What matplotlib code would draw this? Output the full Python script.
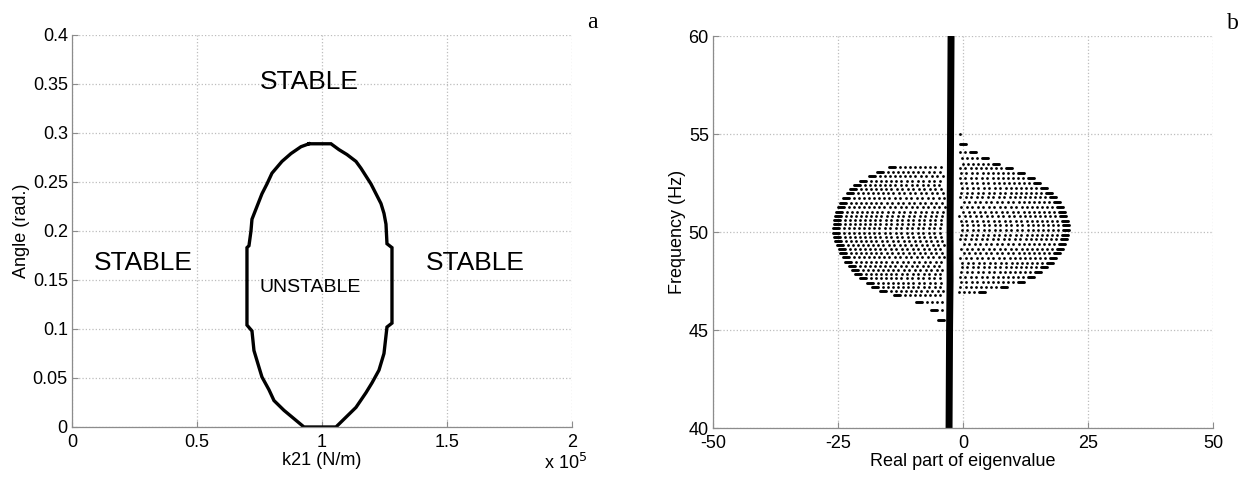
import numpy as np
import matplotlib.pyplot as plt

plt.rcParams['font.family'] = ['Liberation Sans', 'DejaVu Sans']

# ---- panel a: stability boundary in the (k21, angle) plane ----
# k21 in units of 1e5 N/m, angle in rad
bound_k = [0.948, 1.036, 1.068, 1.100, 1.136, 1.156, 1.176, 1.196, 1.216, 1.236,
           1.248, 1.256, 1.260, 1.280, 1.280, 1.260, 1.248, 1.228, 1.200, 1.176,
           1.136, 1.096, 1.056, 0.928, 0.848, 0.808, 0.788, 0.760, 0.748, 0.728,
           0.720, 0.700, 0.700, 0.708, 0.716, 0.720, 0.740, 0.760, 0.780, 0.800,
           0.840, 0.876, 0.916, 0.948]
bound_ang = [0.289, 0.289, 0.283, 0.278, 0.271, 0.264, 0.256, 0.248, 0.238, 0.228,
             0.218, 0.207, 0.187, 0.183, 0.106, 0.102, 0.075, 0.058, 0.045, 0.035,
             0.020, 0.010, 0.000, 0.000, 0.017, 0.027, 0.038, 0.051, 0.061, 0.078,
             0.098, 0.104, 0.183, 0.185, 0.200, 0.212, 0.225, 0.238, 0.248, 0.259,
             0.271, 0.279, 0.286, 0.289]

a_xticks = [0, 0.5, 1, 1.5, 2]
a_xlabels = ['0', '0.5', '1', '1.5', '2']
a_yticks = [0, 0.05, 0.1, 0.15, 0.2, 0.25, 0.3, 0.35, 0.4]
a_ylabels = ['0', '0.05', '0.1', '0.15', '0.2', '0.25', '0.3', '0.35', '0.4']

# ---- panel b: eigenvalues of the coupled modes ----
damp_re = -2.5  # real part shared by the uncoupled modes

# dense column of stable eigenvalues
band_re = [-2.4, -2.5, -2.6, -2.6, -2.7, -2.8]
band_f = [60.0, 55.0, 50.0, 47.5, 45.0, 40.0]

# rows of the lower-frequency branch (real part < damp_re): frequency and spread
left_row_f = [45.00, 45.50, 46.00, 46.45,
              46.79, 46.99, 47.21, 47.41, 47.64, 47.86, 48.06, 48.27, 48.48, 48.71,
              48.91, 49.12, 49.34, 49.56, 49.76, 49.97, 50.19, 50.41, 50.61, 50.82,
              51.04, 51.26, 51.49, 51.75, 51.97, 52.18, 52.40, 52.62, 52.86, 53.08,
              53.33]
left_row_ext = [1.2, 2.5, 4.0, 7.0,
                11.4, 14.1, 15.8, 16.8, 18.1, 19.1, 19.8, 20.4, 21.1, 21.6,
                22.1, 22.4, 22.8, 23.1, 23.4, 23.6, 23.6, 23.4, 23.4, 23.2,
                23.0, 22.6, 22.1, 21.6, 20.8, 20.1, 19.3, 18.1, 16.4, 14.8,
                12.4]

# rows of the higher-frequency branch (real part > damp_re)
right_row_f = [46.95, 47.21, 47.46, 47.72, 47.96, 48.20, 48.43, 48.67, 48.91, 49.15,
               49.39, 49.63, 49.86, 50.10, 50.34, 50.58, 50.82, 51.04, 51.29, 51.53,
               51.77, 52.00, 52.23, 52.48, 52.74, 53.00, 53.25, 53.47, 53.76,
               54.10, 54.50, 55.00, 55.50]
right_row_ext = [6.9, 11.2, 14.6, 16.6, 18.0, 19.2, 20.4, 21.1, 21.8, 22.4,
                 22.9, 23.2, 23.4, 23.6, 23.6, 23.4, 23.1, 22.8, 22.4, 21.8,
                 21.1, 20.2, 19.2, 17.9, 16.6, 14.6, 12.2, 9.6, 7.5,
                 5.0, 3.0, 1.8, 1.0]

# positions of the sweep points, measured inward from the outer end of a row
sweep_offsets = [0.0, 0.2, 0.4, 0.6, 0.8, 1.0, 1.2,
                 2.2, 3.2, 4.2, 5.2, 6.2, 7.2, 8.2, 9.3, 10.4, 11.5,
                 12.6, 13.7, 14.8, 15.9, 17.0, 18.1, 19.2, 20.3, 21.4]

b_xticks = [-50, -25, 0, 25, 50]
b_xlabels = ['-50', '-25', '0', '25', '50']
b_yticks = [40, 45, 50, 55, 60]

axis_grey = '#8c8c8c'
grid_grey = '#bdbdbd'


def style_axes(ax):
    for side in ('top', 'right'):
        ax.spines[side].set_visible(False)
    for side in ('left', 'bottom'):
        ax.spines[side].set_color(axis_grey)
        ax.spines[side].set_linewidth(0.9)
    ax.grid(True, linestyle=':', color=grid_grey, linewidth=0.9)
    ax.tick_params(direction='in', length=4, color=axis_grey, labelsize=13,
                   labelcolor='black', pad=3)
    ax.tick_params(axis='x', pad=5)


fig = plt.figure(figsize=(12.47, 4.86), dpi=100)
ax_a = fig.add_axes([0.0577, 0.1214, 0.401, 0.8066])
ax_b = fig.add_axes([0.5718, 0.1193, 0.401, 0.8066])

# panel a
style_axes(ax_a)
ax_a.plot(bound_k, bound_ang, color='black', linewidth=2.4,
          solid_joinstyle='miter')
ax_a.set_xlim(0, 2)
ax_a.set_ylim(0, 0.4)
ax_a.set_xticks(a_xticks)
ax_a.set_xticklabels(a_xlabels)
ax_a.set_yticks(a_yticks)
ax_a.set_yticklabels(a_ylabels)
ax_a.set_xlabel('k21 (N/m)', fontsize=13, labelpad=1)
ax_a.set_ylabel('Angle (rad.)', fontsize=13, labelpad=2)
ax_a.text(0.948, 0.352, 'STABLE', fontsize=19, ha='center', va='center')
ax_a.text(0.284, 0.167, 'STABLE', fontsize=19, ha='center', va='center')
ax_a.text(1.612, 0.167, 'STABLE', fontsize=19, ha='center', va='center')
ax_a.text(0.952, 0.142, 'UNSTABLE', fontsize=14, ha='center', va='center')
ax_a.text(0.945, -0.065, r'x 10$^{5}$', fontsize=13, transform=ax_a.transAxes,
          ha='left', va='top')
ax_a.text(1.04, 1.033, 'a', fontsize=17, family='Liberation Serif',
          transform=ax_a.transAxes, ha='center', va='center')

# panel b
style_axes(ax_b)
ax_b.plot(band_re, band_f, color='black', linewidth=5.0, solid_capstyle='butt')

offs = np.array(sweep_offsets)
pts_re, pts_f = [], []
for f, ext in zip(left_row_f, left_row_ext):
    s = ext - offs
    s = s[s > 1.2]
    pts_re.extend(damp_re - s)
    pts_f.extend([f] * len(s))
for f, ext in zip(right_row_f, right_row_ext):
    s = ext - offs
    s = s[s > 1.6]
    pts_re.extend(damp_re + s)
    pts_f.extend([f] * len(s))
ax_b.plot(pts_re, pts_f, 'o', color='black', markersize=2.0,
          markeredgewidth=0, linestyle='none')

ax_b.set_xlim(-50, 50)
ax_b.set_ylim(40, 60)
ax_b.set_xticks(b_xticks)
ax_b.set_xticklabels(b_xlabels)
ax_b.set_yticks(b_yticks)
ax_b.set_xlabel('Real part of eigenvalue', fontsize=13, labelpad=1)
ax_b.set_ylabel('Frequency (Hz)', fontsize=13, labelpad=2)
ax_b.text(1.04, 1.033, 'b', fontsize=17, family='Liberation Serif',
          transform=ax_b.transAxes, ha='center', va='center')

fig.savefig('out.png', dpi=100)
